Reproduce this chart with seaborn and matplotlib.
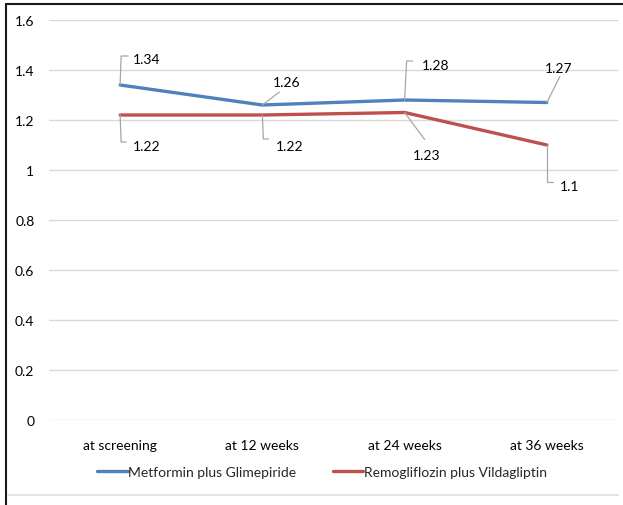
import matplotlib
matplotlib.use("Agg")
import matplotlib.pyplot as plt
from matplotlib.lines import Line2D
from matplotlib.transforms import IdentityTransform
import pandas as pd
import seaborn as sns

# Data
visits = ["at screening", "at 12 weeks", "at 24 weeks", "at 36 weeks"]
metformin_glimepiride = [1.34, 1.26, 1.28, 1.27]
remogliflozin_vildagliptin = [1.22, 1.22, 1.23, 1.10]
series_names = ["Metformin plus Glimepiride", "Remogliflozin plus Vildagliptin"]
y_ticks = [0, 0.2, 0.4, 0.6, 0.8, 1, 1.2, 1.4, 1.6]
y_tick_labels = ["0", "0.2", "0.4", "0.6", "0.8", "1", "1.2", "1.4", "1.6"]

df = pd.DataFrame({
    "visit": visits * 2,
    "value": metformin_glimepiride + remogliflozin_vildagliptin,
    "group": [series_names[0]] * 4 + [series_names[1]] * 4,
})

sns.set_theme(style="white")
plt.rcParams["font.family"] = ["Lato", "DejaVu Sans"]

W, H, DPI = 623, 506, 100
FS = 10
fig = plt.figure(figsize=(W / DPI, H / DPI), dpi=DPI)
fig.patch.set_facecolor("white")

# plot area in pixels: x 49..618, y 21..421
ax = fig.add_axes([49 / W, 1 - 421 / H, (618 - 49) / W, (421 - 21) / H])

colors = {series_names[0]: "#4F81BD", series_names[1]: "#C0504D"}
sns.lineplot(data=df, x="visit", y="value", hue="group", palette=colors,
             sort=False, linewidth=2.4, ax=ax, legend=False)

ax.set_xlim(-0.5, 3.5)
ax.set_ylim(0, 1.6)
ax.set_yticks(y_ticks)
ax.set_yticklabels(y_tick_labels)
ax.yaxis.grid(True, color="#d9d9d9", linewidth=1.0)
ax.set_axisbelow(True)
for s in ax.spines.values():
    s.set_visible(False)
ax.tick_params(axis="both", length=0, labelsize=FS, colors="black")
ax.tick_params(axis="y", pad=10.5)
ax.tick_params(axis="x", pad=13.5)
ax.set_xlabel("")
ax.set_ylabel("")

fig.canvas.draw()

# Data labels with leader lines (offsets in pixels, image y downward)
leader_gray = "#a6a6a6"
labels = [
    # (x index, value, leader path, text anchor, ha)
    (0, metformin_glimepiride[0], [(0, 0), (1, -29), (8, -29)], (13, -26), "left"),
    (1, metformin_glimepiride[1], [(0, 0), (17, -13)], (24, -23), "center"),
    (2, metformin_glimepiride[2], [(0, 0), (2, -39), (8, -39)], (17, -35), "left"),
    (3, metformin_glimepiride[3], [(0, 0), (13, -26)], (12, -35), "center"),
    (0, remogliflozin_vildagliptin[0], [(0, 0), (1, 27), (6, 27)], (13, 31), "left"),
    (1, remogliflozin_vildagliptin[1], [(0, 0), (1, 24), (6, 24)], (13, 31), "left"),
    (2, remogliflozin_vildagliptin[2], [(0, 0), (20, 27)], (22, 42), "center"),
    (3, remogliflozin_vildagliptin[3], [(0, 0), (0, 37), (6, 37)], (13, 41), "left"),
]
for xi, val, path, (tx, ty), ha in labels:
    px, py = ax.transData.transform((xi, val))
    xs = [px + dx for dx, dy in path]
    ys = [py - dy for dx, dy in path]
    fig.add_artist(Line2D(xs, ys, transform=IdentityTransform(),
                          color=leader_gray, linewidth=0.9))
    fig.text((px + tx) / W, (py - ty) / H, f"{val:g}", ha=ha, va="center",
             fontsize=FS, color="black")

# Legend below the categories
handles = [Line2D([], [], color=colors[n], linewidth=2.4) for n in series_names]
fig.legend(handles, series_names, loc="center", bbox_to_anchor=(322 / W, 1 - 473 / H),
           ncol=2, frameon=False, fontsize=FS, handlelength=2.2,
           handletextpad=0.05, columnspacing=2.6)

# Outer frame: dark top and left edges, light bottom rule
fig.add_artist(Line2D([6, W], [H - 5, H - 5], transform=IdentityTransform(),
                      color="#1a1a1a", linewidth=1.5))
fig.add_artist(Line2D([6, 6], [0, H - 5], transform=IdentityTransform(),
                      color="#1a1a1a", linewidth=1.5))
fig.add_artist(Line2D([8, 618], [H - 496, H - 496], transform=IdentityTransform(),
                      color="#e3e3e3", linewidth=1.5))

fig.savefig("out.png", dpi=DPI)
